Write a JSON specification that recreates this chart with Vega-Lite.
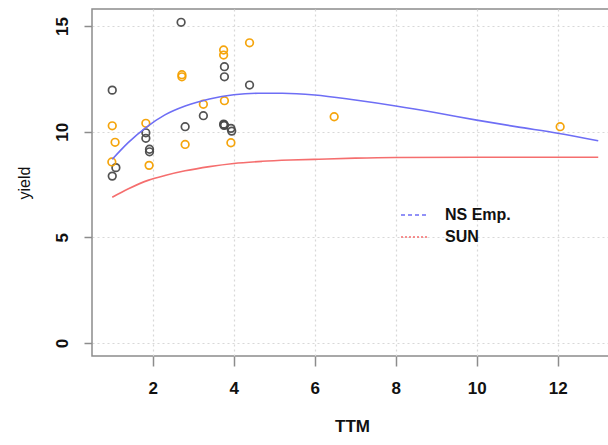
{
  "$schema": "https://vega.github.io/schema/vega-lite/v6.json",
  "width": 520,
  "height": 347,
  "autosize": "none",
  "padding": {"left": 92, "top": 9, "right": 0, "bottom": 89},
  "background": "white",
  "config": {
    "font": "Liberation Sans",
    "view": {"stroke": "#8c8c8c", "strokeWidth": 1.5},
    "axis": {
      "domain": false,
      "grid": true,
      "gridColor": "#d8d8d8",
      "gridDash": [2, 3],
      "gridWidth": 1.2,
      "tickColor": "#8c8c8c",
      "tickWidth": 1.5,
      "labelColor": "#111111",
      "titleColor": "#111111",
      "labelFont": "Liberation Sans",
      "titleFont": "Liberation Sans"
    }
  },
  "datasets": {
    "pts": [
      {"TTM": 2.70, "yield": 15.18, "grp": "a"},
      {"TTM": 1.00, "yield": 11.97, "grp": "a"},
      {"TTM": 3.77, "yield": 13.08, "grp": "a"},
      {"TTM": 3.77, "yield": 12.60, "grp": "a"},
      {"TTM": 4.39, "yield": 12.21, "grp": "a"},
      {"TTM": 3.25, "yield": 10.76, "grp": "a"},
      {"TTM": 2.80, "yield": 10.24, "grp": "a"},
      {"TTM": 3.75, "yield": 10.36, "grp": "a"},
      {"TTM": 3.77, "yield": 10.32, "grp": "a"},
      {"TTM": 3.76, "yield": 10.30, "grp": "a"},
      {"TTM": 3.93, "yield": 10.16, "grp": "a"},
      {"TTM": 3.95, "yield": 10.03, "grp": "a"},
      {"TTM": 1.83, "yield": 9.95, "grp": "a"},
      {"TTM": 1.83, "yield": 9.69, "grp": "a"},
      {"TTM": 1.92, "yield": 9.17, "grp": "a"},
      {"TTM": 1.92, "yield": 9.05, "grp": "a"},
      {"TTM": 1.09, "yield": 8.30, "grp": "a"},
      {"TTM": 1.00, "yield": 7.90, "grp": "a"},
      {"TTM": 4.39, "yield": 14.21, "grp": "b"},
      {"TTM": 3.75, "yield": 13.87, "grp": "b"},
      {"TTM": 3.75, "yield": 13.63, "grp": "b"},
      {"TTM": 2.72, "yield": 12.70, "grp": "b"},
      {"TTM": 2.72, "yield": 12.60, "grp": "b"},
      {"TTM": 3.77, "yield": 11.47, "grp": "b"},
      {"TTM": 3.25, "yield": 11.30, "grp": "b"},
      {"TTM": 1.00, "yield": 10.28, "grp": "b"},
      {"TTM": 1.83, "yield": 10.40, "grp": "b"},
      {"TTM": 1.07, "yield": 9.50, "grp": "b"},
      {"TTM": 2.80, "yield": 9.40, "grp": "b"},
      {"TTM": 3.93, "yield": 9.48, "grp": "b"},
      {"TTM": 0.99, "yield": 8.57, "grp": "b"},
      {"TTM": 1.91, "yield": 8.41, "grp": "b"},
      {"TTM": 6.48, "yield": 10.71, "grp": "b"},
      {"TTM": 12.06, "yield": 10.24, "grp": "b"}
    ],
    "curves": [
      {"TTM": 1.0, "yield": 8.70, "series": "NS Emp."},
      {"TTM": 1.4, "yield": 9.50, "series": "NS Emp."},
      {"TTM": 1.83, "yield": 10.20, "series": "NS Emp."},
      {"TTM": 2.3, "yield": 10.80, "series": "NS Emp."},
      {"TTM": 2.8, "yield": 11.22, "series": "NS Emp."},
      {"TTM": 3.4, "yield": 11.55, "series": "NS Emp."},
      {"TTM": 4.0, "yield": 11.75, "series": "NS Emp."},
      {"TTM": 4.6, "yield": 11.82, "series": "NS Emp."},
      {"TTM": 5.2, "yield": 11.82, "series": "NS Emp."},
      {"TTM": 6.0, "yield": 11.74, "series": "NS Emp."},
      {"TTM": 7.0, "yield": 11.50, "series": "NS Emp."},
      {"TTM": 8.0, "yield": 11.22, "series": "NS Emp."},
      {"TTM": 9.0, "yield": 10.90, "series": "NS Emp."},
      {"TTM": 10.0, "yield": 10.55, "series": "NS Emp."},
      {"TTM": 11.0, "yield": 10.23, "series": "NS Emp."},
      {"TTM": 12.0, "yield": 9.93, "series": "NS Emp."},
      {"TTM": 13.0, "yield": 9.57, "series": "NS Emp."},
      {"TTM": 1.0, "yield": 6.90, "series": "SUN"},
      {"TTM": 1.4, "yield": 7.30, "series": "SUN"},
      {"TTM": 1.9, "yield": 7.71, "series": "SUN"},
      {"TTM": 2.3, "yield": 7.93, "series": "SUN"},
      {"TTM": 2.8, "yield": 8.15, "series": "SUN"},
      {"TTM": 3.4, "yield": 8.35, "series": "SUN"},
      {"TTM": 4.0, "yield": 8.50, "series": "SUN"},
      {"TTM": 4.7, "yield": 8.60, "series": "SUN"},
      {"TTM": 5.4, "yield": 8.66, "series": "SUN"},
      {"TTM": 6.1, "yield": 8.70, "series": "SUN"},
      {"TTM": 7.0, "yield": 8.75, "series": "SUN"},
      {"TTM": 8.0, "yield": 8.78, "series": "SUN"},
      {"TTM": 10.0, "yield": 8.79, "series": "SUN"},
      {"TTM": 13.0, "yield": 8.79, "series": "SUN"}
    ]
  },
  "layer": [
    {
      "data": {"name": "pts"},
      "mark": {"type": "point", "filled": false, "size": 58, "strokeWidth": 1.7, "opacity": 0.95},
      "encoding": {
        "x": {
          "field": "TTM", "type": "quantitative",
          "scale": {"domain": [0.5, 13.34], "nice": false, "zero": false},
          "axis": {
            "values": [2, 4, 6, 8, 10, 12],
            "tickSize": 10,
            "labelFontSize": 17,
            "labelFontWeight": "bold",
            "labelPadding": 14,
            "title": "TTM",
            "titleFontSize": 17,
            "titleFontWeight": "bold",
            "titlePadding": 22
          }
        },
        "y": {
          "field": "yield", "type": "quantitative",
          "scale": {"domain": [-0.615, 15.81], "nice": false, "zero": false},
          "axis": {
            "values": [0, 5, 10, 15],
            "tickSize": 8,
            "labelAngle": -90,
            "labelAlign": "center",
            "labelBaseline": "bottom",
            "labelFontSize": 17,
            "labelFontWeight": "bold",
            "labelPadding": 13,
            "title": "yield",
            "titleFontSize": 16,
            "titleFontWeight": "normal",
            "titlePadding": 21
          }
        },
        "color": {
          "field": "grp", "type": "nominal",
          "scale": {"domain": ["a", "b"], "range": ["#4a4a4a", "#f5a100"]},
          "legend": null
        }
      }
    },
    {
      "data": {"name": "curves"},
      "mark": {"type": "line", "strokeWidth": 1.6, "interpolate": "monotone"},
      "encoding": {
        "x": {"field": "TTM", "type": "quantitative"},
        "y": {"field": "yield", "type": "quantitative"},
        "color": {
          "field": "series", "type": "nominal",
          "scale": {"domain": ["NS Emp.", "SUN"], "range": ["#6e6ef5", "#f56e6e"]},
          "legend": {
            "title": null,
            "orient": "none",
            "legendX": 308,
            "legendY": 192,
            "padding": 0,
            "symbolType": "stroke",
            "symbolSize": 676,
            "symbolStrokeWidth": 1.5,
            "rowPadding": -2,
            "labelOffset": 17,
            "labelFontSize": 16,
            "labelFontWeight": "bold",
            "labelColor": "#111111",
            "labelFont": "Liberation Sans",
            "encode": {
              "symbols": {
                "update": {
                  "strokeDash": {"signal": "datum.label === 'NS Emp.' ? [4, 3] : [2, 2]"}
                }
              }
            }
          }
        }
      }
    }
  ],
  "resolve": {"scale": {"color": "independent"}}
}
